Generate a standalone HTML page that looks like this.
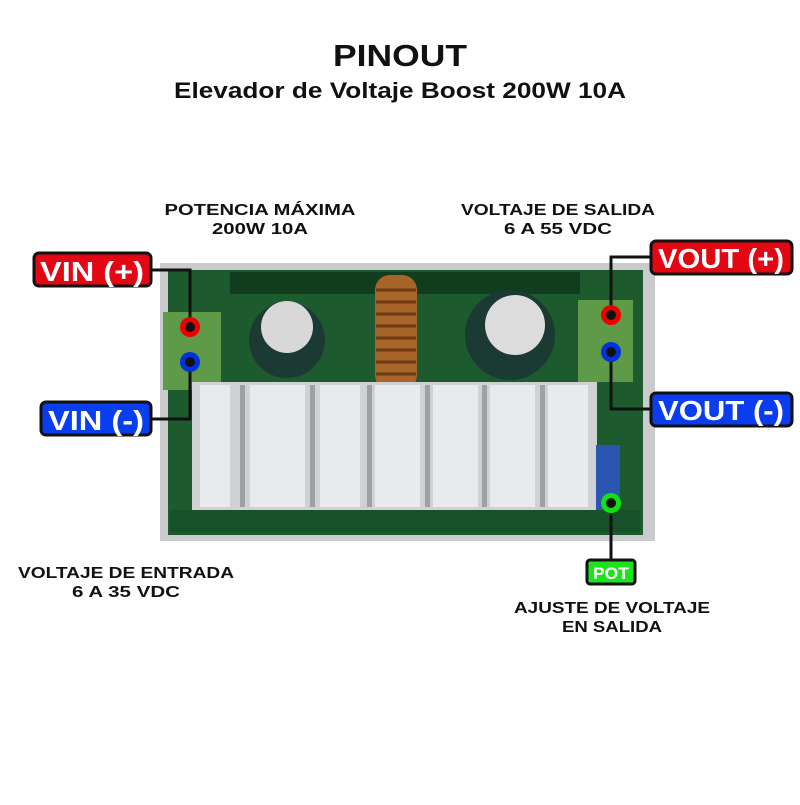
<!DOCTYPE html>
<html><head><meta charset="utf-8"><style>
body{margin:0;background:#fff;width:800px;height:800px;overflow:hidden;font-family:"Liberation Sans",sans-serif}
</style></head><body>
<svg width="800" height="800" viewBox="0 0 800 800" xmlns="http://www.w3.org/2000/svg" font-family="Liberation Sans, sans-serif" font-weight="bold">
<rect width="800" height="800" fill="#fff"/>
<text x="400" y="66" text-anchor="middle" font-size="31" fill="#111" textLength="134" lengthAdjust="spacingAndGlyphs">PINOUT</text>
<text x="400" y="98" text-anchor="middle" font-size="22" fill="#111" textLength="452" lengthAdjust="spacingAndGlyphs">Elevador de Voltaje Boost 200W 10A</text>
<g font-size="16" fill="#111" text-anchor="middle" lengthAdjust="spacingAndGlyphs">
<text x="260" y="215" textLength="191" lengthAdjust="spacingAndGlyphs">POTENCIA MÁXIMA</text><text x="260" y="234" textLength="96" lengthAdjust="spacingAndGlyphs">200W 10A</text>
<text x="558" y="215" textLength="194" lengthAdjust="spacingAndGlyphs">VOLTAJE DE SALIDA</text><text x="558" y="234" textLength="108" lengthAdjust="spacingAndGlyphs">6 A 55 VDC</text>
<text x="126" y="578" textLength="216" lengthAdjust="spacingAndGlyphs">VOLTAJE DE ENTRADA</text><text x="126" y="597" textLength="108" lengthAdjust="spacingAndGlyphs">6 A 35 VDC</text>
<text x="612" y="613" textLength="196" lengthAdjust="spacingAndGlyphs">AJUSTE DE VOLTAJE</text><text x="612" y="632" textLength="100" lengthAdjust="spacingAndGlyphs">EN SALIDA</text>
</g>
<!-- board -->
<rect x="160" y="263" width="495" height="278" fill="#c9cbcc"/>
<rect x="168" y="270" width="475" height="265" fill="#1d5a2e"/>
<rect x="230" y="272" width="350" height="22" fill="#113d1e"/>
<rect x="170" y="510" width="470" height="22" fill="#17512a"/>
<rect x="163" y="312" width="58" height="78" fill="#5e9a48"/>
<rect x="578" y="300" width="55" height="82" fill="#5e9a48"/>
<circle cx="287" cy="340" r="38" fill="#1b3a34"/><circle cx="287" cy="327" r="26" fill="#d8d8d8"/>
<circle cx="510" cy="335" r="45" fill="#1b3a34"/><circle cx="515" cy="325" r="30" fill="#dcdcdc"/>
<rect x="375" y="275" width="42" height="115" rx="15" fill="#a8652a"/>
<g stroke="#6b3a12" stroke-width="3">
<line x1="376" y1="290" x2="416" y2="290"/><line x1="376" y1="302" x2="416" y2="302"/><line x1="376" y1="314" x2="416" y2="314"/><line x1="376" y1="326" x2="416" y2="326"/><line x1="376" y1="338" x2="416" y2="338"/><line x1="376" y1="350" x2="416" y2="350"/><line x1="376" y1="362" x2="416" y2="362"/><line x1="376" y1="374" x2="416" y2="374"/>
</g>
<rect x="192" y="382" width="405" height="128" fill="#cfd1d3"/>
<g fill="#e9eaeb">
<rect x="200" y="385" width="30" height="122"/><rect x="250" y="385" width="55" height="122"/><rect x="320" y="385" width="40" height="122"/><rect x="375" y="385" width="45" height="122"/><rect x="433" y="385" width="45" height="122"/><rect x="490" y="385" width="45" height="122"/><rect x="548" y="385" width="40" height="122"/>
</g>
<g fill="#9ea1a4">
<rect x="240" y="385" width="5" height="122"/><rect x="310" y="385" width="5" height="122"/><rect x="367" y="385" width="5" height="122"/><rect x="425" y="385" width="5" height="122"/><rect x="482" y="385" width="5" height="122"/><rect x="540" y="385" width="5" height="122"/>
</g>
<rect x="596" y="445" width="24" height="65" fill="#2a55b0"/>
<g fill="none" stroke="#111" stroke-width="3">
<polyline points="151,270 190,270 190,327"/>
<polyline points="151,419 190,419 190,362"/>
<polyline points="650,257 611,257 611,315"/>
<polyline points="650,409 611,409 611,352"/>
<line x1="611" y1="503" x2="611" y2="560"/>
</g>
<circle cx="190" cy="327" r="10" fill="#e00"/><circle cx="190" cy="327" r="5" fill="#111"/>
<circle cx="190" cy="362" r="10" fill="#0033dd"/><circle cx="190" cy="362" r="5" fill="#111"/>
<circle cx="611" cy="315" r="10" fill="#e00"/><circle cx="611" cy="315" r="5" fill="#111"/>
<circle cx="611" cy="352" r="10" fill="#0033dd"/><circle cx="611" cy="352" r="5" fill="#111"/>
<circle cx="611" cy="503" r="10" fill="#11e011"/><circle cx="611" cy="503" r="5" fill="#111"/>
<g stroke="#111" stroke-width="3">
<rect x="34" y="253" width="117" height="33" rx="5" fill="#e30613"/>
<rect x="41" y="402" width="110" height="33" rx="5" fill="#0a3cf0"/>
<rect x="651" y="241" width="141" height="33" rx="5" fill="#e30613"/>
<rect x="651" y="393" width="141" height="33" rx="5" fill="#0a3cf0"/>
<rect x="587" y="560" width="48" height="24" rx="3" fill="#1ee21e"/>
</g>
<g fill="#fff" text-anchor="middle">
<text x="92" y="281" font-size="28" textLength="104" lengthAdjust="spacingAndGlyphs">VIN (+)</text>
<text x="96" y="430" font-size="28" textLength="96" lengthAdjust="spacingAndGlyphs">VIN (-)</text>
<text x="721" y="268" font-size="28" textLength="126" lengthAdjust="spacingAndGlyphs">VOUT (+)</text>
<text x="721" y="420" font-size="28" textLength="126" lengthAdjust="spacingAndGlyphs">VOUT (-)</text>
<text x="611" y="579" font-size="17" textLength="36" lengthAdjust="spacingAndGlyphs">POT</text>
</g>
</svg>
</body></html>
